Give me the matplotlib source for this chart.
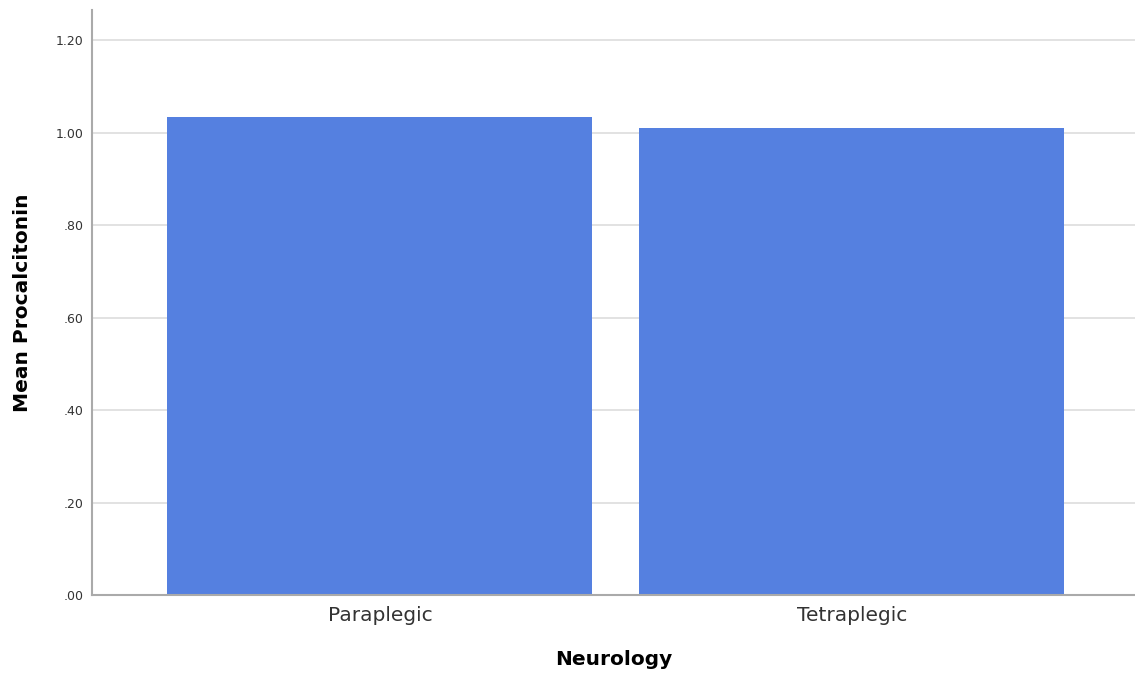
import numpy as np
import matplotlib.pyplot as plt

categories = ['Paraplegic', 'Tetraplegic']
mean_pct = [1.033, 1.010]
yticks = [0.0, 0.2, 0.4, 0.6, 0.8, 1.0, 1.2]
ytick_labels = ['.00', '.20', '.40', '.60', '.80', '1.00', '1.20']

plt.rcParams['font.family'] = ['DejaVu Sans']

fig = plt.figure(figsize=(11.35, 6.74), dpi=100)
ax = fig.add_axes([0.081, 0.117, 0.919, 0.868])

x = np.arange(len(categories))
ax.bar(x, mean_pct, width=0.9, color='#5580E0', zorder=2)

ax.set_xlim(-0.61, 1.6)
ax.set_ylim(0, 1.265)
ax.set_yticks(yticks)
ax.set_yticklabels(ytick_labels, fontsize=9, color='#333333')
ax.set_xticks(x)
ax.set_xticklabels(categories, fontsize=14.5, color='#333333')
ax.grid(axis='y', color='#dddddd', lw=1.2, zorder=0)
ax.tick_params(axis='y', length=0, pad=6)
ax.tick_params(axis='x', length=0, pad=8)

for s in ['top', 'right']:
    ax.spines[s].set_visible(False)
for s in ['left', 'bottom']:
    ax.spines[s].set_color('#aaaaaa')
    ax.spines[s].set_linewidth(1.5)

ax.set_xlabel('Neurology', fontsize=14.5, fontweight='bold', labelpad=18)
ax.set_ylabel('Mean Procalcitonin', fontsize=14.5, fontweight='bold', labelpad=17)

fig.savefig('out.png', dpi=100)
